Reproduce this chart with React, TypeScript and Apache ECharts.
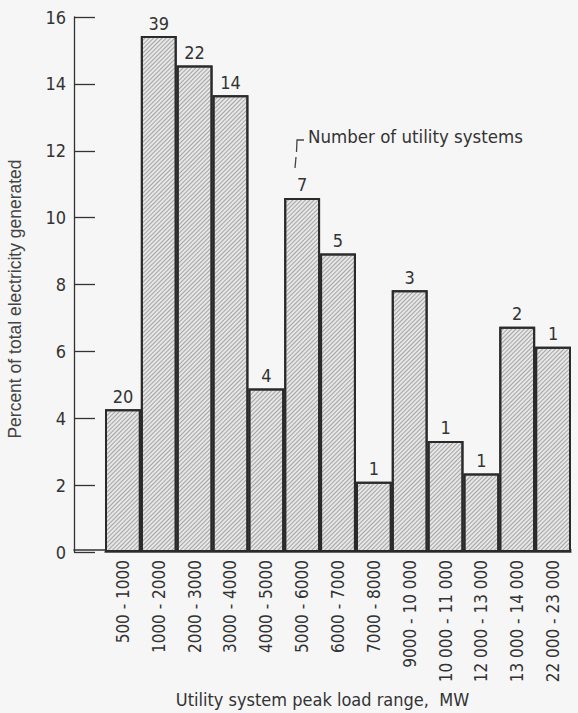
import React, { useEffect, useRef } from "react";
import * as echarts from "echarts";

const categories = [
  "500 - 1000",
  "1000 - 2000",
  "2000 - 3000",
  "3000 - 4000",
  "4000 - 5000",
  "5000 - 6000",
  "6000 - 7000",
  "7000 - 8000",
  "9000 - 10 000",
  "10 000 - 11 000",
  "12 000 - 13 000",
  "13 000 - 14 000",
  "22 000 - 23 000",
];
const percentValues = [4.27, 15.43, 14.55, 13.66, 4.89, 10.59, 8.93, 2.1, 7.83, 3.32, 2.35, 6.74, 6.14];
const systemCounts = [20, 39, 22, 14, 4, 7, 5, 1, 3, 1, 1, 2, 1];
const yTicks = { min: 0, max: 16, interval: 2 };

const COND = '"DejaVu Sans Condensed", "Liberation Sans Narrow", "DejaVu Sans", sans-serif';
const TXT = "#333";

export default function App() {
  const ref = useRef<HTMLDivElement>(null);
  useEffect(() => {
    if (!ref.current) return;
    const chart = echarts.init(ref.current, null, { renderer: "svg" });
    chart.setOption({
      animation: false,
      backgroundColor: "#f6f6f6",
      grid: [
        { left: 105, right: 7, top: 17, bottom: 161 },
        { left: 74, right: 7, top: 17, bottom: 161 },
      ],
      xAxis: [
        {
          type: "category",
          gridIndex: 0,
          data: categories,
          boundaryGap: true,
          axisLine: { show: true, lineStyle: { color: TXT, width: 1.5 } },
          axisTick: { show: false },
          axisLabel: {
            rotate: 90,
            interval: 0,
            margin: 8,
            color: TXT,
            fontFamily: COND,
            fontSize: 17,
          },
        },
        {
          type: "value",
          gridIndex: 1,
          min: 0,
          max: 1,
          axisLine: { show: true, onZero: false, lineStyle: { color: TXT, width: 1.5 } },
          axisTick: { show: false },
          axisLabel: { show: false },
          splitLine: { show: false },
          name: "Utility system peak load range,  MW",
          nameLocation: "middle",
          nameGap: 140,
          nameTextStyle: { color: TXT, fontFamily: COND, fontSize: 18 },
        },
      ],
      yAxis: [
        {
          type: "value",
          gridIndex: 0,
          min: yTicks.min,
          max: yTicks.max,
          interval: yTicks.interval,
          offset: 31,
          axisLine: { show: true, lineStyle: { color: TXT, width: 1.3 } },
          axisTick: { show: true, inside: true, length: 21, lineStyle: { color: TXT, width: 1.3 } },
          splitLine: { show: false },
          axisLabel: { color: TXT, fontFamily: COND, fontSize: 18, margin: 8 },
        },
        {
          type: "value",
          gridIndex: 1,
          show: false,
          min: 0,
          max: 1,
        },
      ],
      series: [
        {
          type: "bar",
          xAxisIndex: 0,
          yAxisIndex: 0,
          data: percentValues,
          barCategoryGap: "0%",
          itemStyle: {
            color: "#e6e6e6",
            borderColor: "#2a2a2a",
            borderWidth: 2,
            decal: {
              symbol: "rect",
              symbolSize: 1,
              color: "rgba(110,110,110,0.55)",
              dashArrayX: [1, 0],
              dashArrayY: [1, 2],
              rotation: -Math.PI / 4,
            },
          },
          label: {
            show: true,
            position: "top",
            distance: 4,
            color: TXT,
            fontFamily: COND,
            fontSize: 18,
            formatter: (p: any) => String(systemCounts[p.dataIndex]),
          },
        },
      ],
      graphic: [
        {
          type: "text",
          left: 308,
          top: 127,
          style: {
            text: "Number of utility systems",
            fill: TXT,
            fontFamily: COND,
            fontSize: 18.5,
          },
        },
        {
          type: "polyline",
          shape: { points: [[304, 140], [297, 140], [296.5, 152]] },
          style: { stroke: "#444", lineWidth: 1.3, fill: "none" },
        },
        {
          type: "line",
          shape: { x1: 296, y1: 157, x2: 295, y2: 168 },
          style: { stroke: "#444", lineWidth: 1.3 },
        },
        {
          type: "text",
          x: 15,
          y: 299,
          rotation: Math.PI / 2,
          style: {
            text: "Percent of total electricity generated",
            fill: "#444",
            fontFamily: '"Liberation Sans", Arial, sans-serif',
            fontSize: 17.5,
            align: "center",
            verticalAlign: "middle",
          },
        },
      ],
    });
    return () => chart.dispose();
  }, []);
  return (
    <div
      ref={ref}
      style={{ position: "fixed", left: 0, top: 0, width: 578, height: 713 }}
    />
  );
}
